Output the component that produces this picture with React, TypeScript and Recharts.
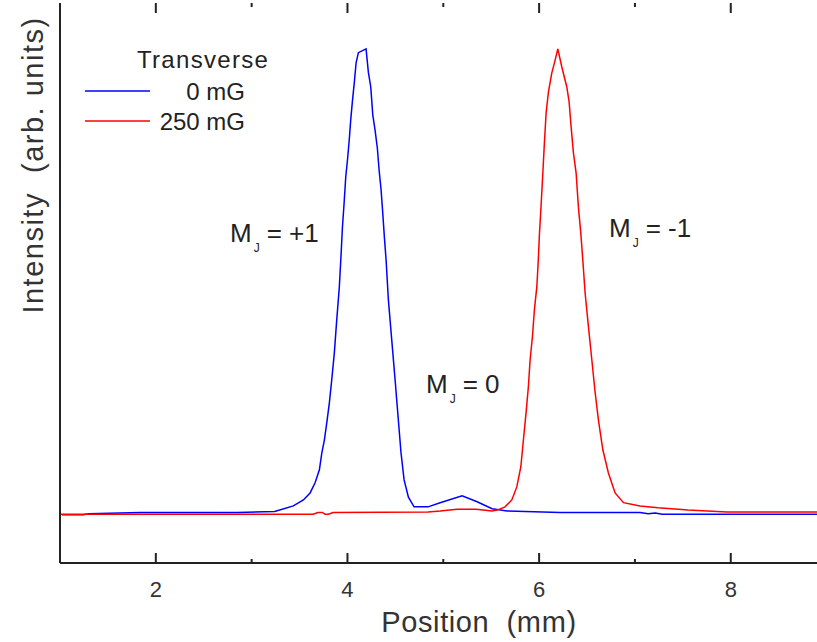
import React from "react";
import { LineChart, Line, XAxis, YAxis, ReferenceLine } from "recharts";

// Beam profile along the detector, 0 mG and 250 mG transverse field
const zeroFieldPos = [
  1.02, 1.24, 1.3, 1.84, 2.85, 3.24, 3.435, 3.54, 3.61, 3.662, 3.707, 3.732, 3.759, 3.784,
  3.811, 3.836, 3.863, 3.888, 3.915, 3.933, 3.947, 3.965, 3.982, 4.003, 4.02, 4.034, 4.051,
  4.072, 4.09, 4.114, 4.194, 4.218, 4.243, 4.264, 4.288, 4.312, 4.33, 4.351, 4.368, 4.385,
  4.403, 4.427, 4.462, 4.497, 4.531, 4.559, 4.591, 4.636, 4.695, 4.841, 4.967, 5.196, 5.353,
  5.509, 5.666, 6.219, 7.054, 7.138, 7.211, 7.284, 8.9,
];
const zeroFieldInt = [
  -0.004, -0.004, -0.002, 0.001, 0.001, 0.003, 0.015, 0.028, 0.043, 0.065, 0.093, 0.129, 0.157,
  0.194, 0.237, 0.287, 0.345, 0.416, 0.487, 0.556, 0.614, 0.668, 0.724, 0.767, 0.808, 0.847,
  0.886, 0.929, 0.97, 0.992, 1.0, 0.95, 0.918, 0.858, 0.825, 0.786, 0.739, 0.696, 0.647, 0.595,
  0.545, 0.459, 0.373, 0.287, 0.2, 0.129, 0.071, 0.034, 0.013, 0.013, 0.022, 0.037, 0.024,
  0.009, 0.004, 0.001, 0.001, -0.002, 0.0, -0.003, -0.003,
];

const fieldPos = [
  1.0, 3.641, 3.693, 3.74, 3.766, 3.8, 3.85, 4.841, 4.967, 5.144, 5.342, 5.509, 5.562, 5.645,
  5.715, 5.767, 5.809, 5.836, 5.864, 5.888, 5.906, 5.93, 5.951, 5.976, 5.99, 6.003, 6.021,
  6.039, 6.055, 6.073, 6.097, 6.132, 6.167, 6.195, 6.237, 6.289, 6.313, 6.334, 6.358, 6.386,
  6.41, 6.435, 6.456, 6.48, 6.515, 6.55, 6.585, 6.619, 6.665, 6.723, 6.793, 6.88, 7.054,
  7.242, 7.555, 7.962, 8.9,
];
const fieldInt = [
  -0.003, -0.003, 0.001, 0.001, -0.003, -0.003, 0.001, 0.002, 0.004, 0.008, 0.008, 0.004,
  0.006, 0.013, 0.028, 0.056, 0.099, 0.157, 0.216, 0.272, 0.33, 0.379, 0.438, 0.487, 0.539,
  0.599, 0.664, 0.733, 0.797, 0.862, 0.907, 0.948, 0.976, 1.0, 0.961, 0.918, 0.886, 0.832,
  0.776, 0.733, 0.659, 0.603, 0.545, 0.474, 0.401, 0.33, 0.259, 0.2, 0.136, 0.086, 0.043,
  0.022, 0.015, 0.011, 0.006, 0.002, 0.002,
];

const seriesNames = ["0 mG", "250 mG"];
const seriesColors = ["#0000ff", "#ff0000"];
const majorTicks = [2, 4, 6, 8];
const minorTicks = [3, 5, 7];

const X_DOMAIN: [number, number] = [1, 8.9];
const Y_DOMAIN: [number, number] = [-0.108, 1.099];
// tick lengths in data units (plot is 560px tall)
const PER_PX = (Y_DOMAIN[1] - Y_DOMAIN[0]) / 560;
const MAJOR_LEN = 10 * PER_PX;
const MINOR_LEN = 4 * PER_PX;

const zeroField = zeroFieldPos.map((x, i) => ({ x, y: zeroFieldInt[i] }));
const field = fieldPos.map((x, i) => ({ x, y: fieldInt[i] }));

const FONT = "'Liberation Sans', Arial, sans-serif";
const AXIS = "#222";

function StateLabel({ x, y, state }: { x: number; y: number; state: string }) {
  return (
    <text x={x} y={y} fontSize={26} fill="#222" fontFamily={FONT}>
      M
      <tspan fontSize={12} dy={10} dx={2}>J</tspan>
      <tspan dy={-10} dx={7}>= {state}</tspan>
    </text>
  );
}

// inward ticks on the top frame edge, and minor ones on the bottom
function topTicks(values: number[], len: number) {
  return values.map((v) => (
    <ReferenceLine
      key={`t${v}`}
      segment={[{ x: v, y: Y_DOMAIN[1] }, { x: v, y: Y_DOMAIN[1] - len }]}
      ifOverflow="visible"
      stroke={AXIS}
      strokeWidth={2}
    />
  ));
}

function bottomTicks(values: number[], len: number) {
  return values.map((v) => (
    <ReferenceLine
      key={`b${v}`}
      segment={[{ x: v, y: Y_DOMAIN[0] }, { x: v, y: Y_DOMAIN[0] + len }]}
      ifOverflow="visible"
      stroke={AXIS}
      strokeWidth={2}
    />
  ));
}

export default function App() {
  return (
    <div style={{ position: "absolute", left: 0, top: 0, width: 817, height: 642, background: "#fff" }}>
      <LineChart width={817} height={642} margin={{ top: 3, right: 0, bottom: 0, left: 0 }}>
        <XAxis
          dataKey="x"
          type="number"
          domain={X_DOMAIN}
          ticks={majorTicks}
          allowDataOverflow
          height={79}
          tickSize={-10}
          tickMargin={28}
          tickLine={{ stroke: AXIS, strokeWidth: 2 }}
          axisLine={{ stroke: AXIS, strokeWidth: 2 }}
          tick={{ fontSize: 22, fill: "#333", fontFamily: FONT }}
          interval={0}
        />
        <XAxis
          xAxisId="top"
          orientation="top"
          dataKey="x"
          type="number"
          domain={X_DOMAIN}
          allowDataOverflow
          height={0}
          tick={false}
          tickLine={false}
          axisLine={{ stroke: AXIS, strokeWidth: 2 }}
        />
        <YAxis
          type="number"
          domain={Y_DOMAIN}
          allowDataOverflow
          width={60}
          tick={false}
          tickLine={false}
          axisLine={{ stroke: AXIS, strokeWidth: 2 }}
        />
        {topTicks(majorTicks, MAJOR_LEN)}
        {topTicks(minorTicks, MINOR_LEN)}
        {bottomTicks(minorTicks, MINOR_LEN)}
        <Line
          data={zeroField}
          dataKey="y"
          type="linear"
          stroke={seriesColors[0]}
          strokeWidth={1.5}
          dot={false}
          isAnimationActive={false}
        />
        <Line
          data={field}
          dataKey="y"
          type="linear"
          stroke={seriesColors[1]}
          strokeWidth={1.5}
          dot={false}
          isAnimationActive={false}
        />
      </LineChart>
      <svg
        width={817}
        height={642}
        style={{ position: "absolute", left: 0, top: 0, pointerEvents: "none" }}
      >
        <text
          transform="translate(43 165) rotate(-90)"
          textAnchor="middle"
          fontSize={29}
          letterSpacing={1.5}
          fill="#333"
          fontFamily={FONT}
          style={{ whiteSpace: "pre" }}
        >
          {"Intensity  (arb. units)"}
        </text>
        <text
          x={479}
          y={632}
          textAnchor="middle"
          fontSize={29}
          letterSpacing={0.6}
          fill="#333"
          fontFamily={FONT}
          style={{ whiteSpace: "pre" }}
        >
          {"Position  (mm)"}
        </text>

        <text x={137} y={68} fontSize={24} letterSpacing={1.3} fill="#222" fontFamily={FONT}>
          Transverse
        </text>
        {seriesNames.map((name, i) => (
          <g key={name}>
            <line x1={85} x2={150} y1={91 + i * 30} y2={91 + i * 30} stroke={seriesColors[i]} strokeWidth={1.5} />
            <text x={245} y={100 + i * 30} textAnchor="end" fontSize={24} fill="#222" fontFamily={FONT}>
              {name}
            </text>
          </g>
        ))}

        <StateLabel x={230} y={242} state="+1" />
        <StateLabel x={609} y={237} state="-1" />
        <StateLabel x={426} y={393} state="0" />
      </svg>
    </div>
  );
}
